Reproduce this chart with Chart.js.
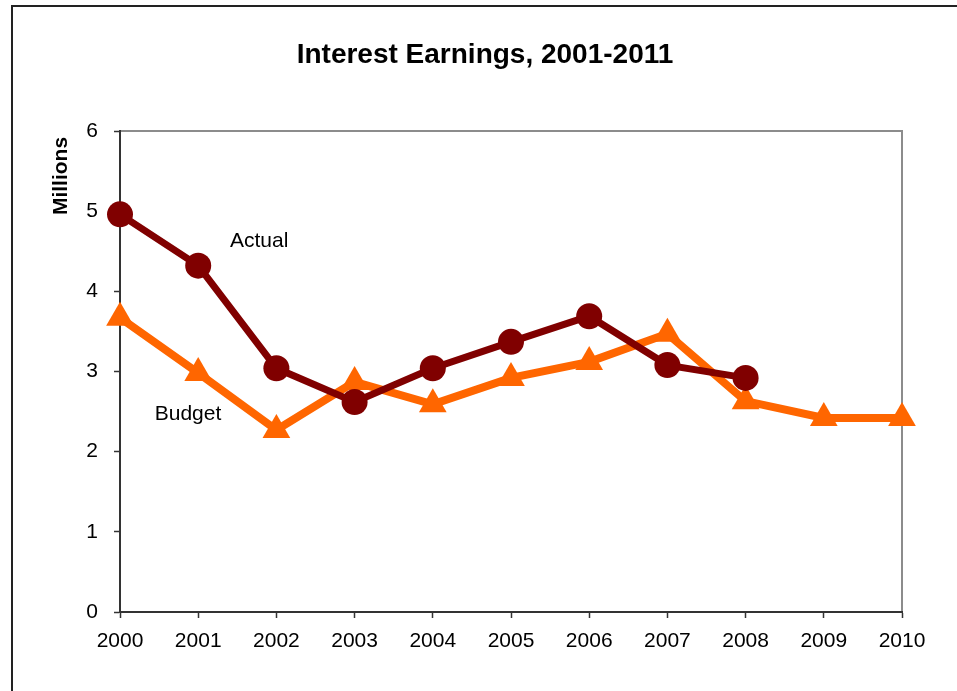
<!DOCTYPE html>
<html>
<head>
<meta charset="utf-8">
<script src="https://cdn.jsdelivr.net/npm/chart.js@4"></script>
<style>
  html, body { margin: 0; padding: 0; background: #fff; }
  #chart { display: block; }
</style>
</head>
<body>
<canvas id="chart" width="957" height="691"></canvas>
<script>
// data
const years = ['2000','2001','2002','2003','2004','2005','2006','2007','2008','2009','2010'];
const actual = [4.96, 4.32, 3.04, 2.62, 3.04, 3.37, 3.69, 3.08, 2.92, null, null];
const budget = [3.67, 2.98, 2.27, 2.87, 2.59, 2.92, 3.12, 3.47, 2.63, 2.42, 2.42];
const yTicks = [0, 1, 2, 3, 4, 5, 6];

const FONT = '"Liberation Sans", Arial, sans-serif';

// frame, title, axis caption and series labels
const decorations = {
  id: 'decorations',
  beforeDraw(chart){
    const ctx = chart.ctx;
    const a = chart.chartArea;
    ctx.save();
    // outer frame (only top and left visible)
    ctx.strokeStyle = '#222';
    ctx.lineWidth = 2;
    ctx.beginPath();
    ctx.moveTo(12, chart.height);
    ctx.lineTo(12, 6);
    ctx.lineTo(chart.width, 6);
    ctx.stroke();
    // gray top/right of plot area
    ctx.strokeStyle = '#8c8c8c';
    ctx.lineWidth = 2;
    ctx.beginPath();
    ctx.moveTo(a.left, a.top);
    ctx.lineTo(a.right, a.top);
    ctx.lineTo(a.right, a.bottom);
    ctx.stroke();
    ctx.restore();
  },
  afterDraw(chart){
    const ctx = chart.ctx;
    const xs = chart.scales.x, ys = chart.scales.y;
    ctx.save();
    ctx.fillStyle = '#000';
    ctx.textAlign = 'center';
    ctx.textBaseline = 'middle';
    ctx.font = 'bold 28px ' + FONT;
    ctx.fillText('Interest Earnings, 2001-2011', 485, 55);

    ctx.save();
    ctx.translate(61, 176);
    ctx.rotate(-Math.PI / 2);
    ctx.font = 'bold 21px ' + FONT;
    ctx.fillText('Millions', 0, 0);
    ctx.restore();

    ctx.font = '21px ' + FONT;
    ctx.fillText('Actual', xs.getPixelForValue(1.78), ys.getPixelForValue(4.63));
    ctx.fillText('Budget', xs.getPixelForValue(0.87), ys.getPixelForValue(2.47));
    ctx.restore();
  }
};

new Chart(document.getElementById('chart'), {
  type: 'line',
  data: {
    labels: years,
    datasets: [
      {
        label: 'Actual',
        data: actual,
        borderColor: '#800000',
        backgroundColor: '#800000',
        borderWidth: 7,
        pointStyle: 'circle',
        pointRadius: 13,
        pointHoverRadius: 13,
        pointBorderWidth: 0,
        tension: 0,
        clip: false,
        order: 0
      },
      {
        label: 'Budget',
        data: budget,
        borderColor: '#ff6600',
        backgroundColor: '#ff6600',
        borderWidth: 8,
        pointStyle: 'triangle',
        pointRadius: 16,
        pointHoverRadius: 16,
        pointBorderWidth: 0,
        tension: 0,
        clip: false,
        order: 1
      }
    ]
  },
  options: {
    responsive: false,
    animation: false,
    events: [],
    layout: { padding: { top: 131, right: 55, left: 0, bottom: 0 } },
    plugins: {
      legend: { display: false },
      title: { display: false },
      tooltip: { enabled: false }
    },
    scales: {
      x: {
        type: 'category',
        offset: false,
        grid: {
          drawOnChartArea: false,
          drawTicks: true,
          tickLength: 6,
          tickWidth: 1.5,
          tickColor: '#333'
        },
        border: { color: '#333', width: 2 },
        ticks: {
          color: '#000',
          font: { family: FONT, size: 21 },
          padding: 11,
          maxRotation: 0,
          autoSkip: false
        },
        afterFit(scale){ scale.height = 79; }
      },
      y: {
        min: 0,
        max: 6,
        afterBuildTicks(scale){ scale.ticks = yTicks.map(v => ({ value: v })); },
        grid: {
          drawOnChartArea: false,
          drawTicks: true,
          tickLength: 6,
          tickWidth: 1.5,
          tickColor: '#333'
        },
        border: { color: '#333', width: 2 },
        ticks: {
          color: '#000',
          font: { family: FONT, size: 21 },
          padding: 16
        },
        afterFit(scale){ scale.width = 120; }
      }
    }
  },
  plugins: [decorations]
});
</script>
</body>
</html>
